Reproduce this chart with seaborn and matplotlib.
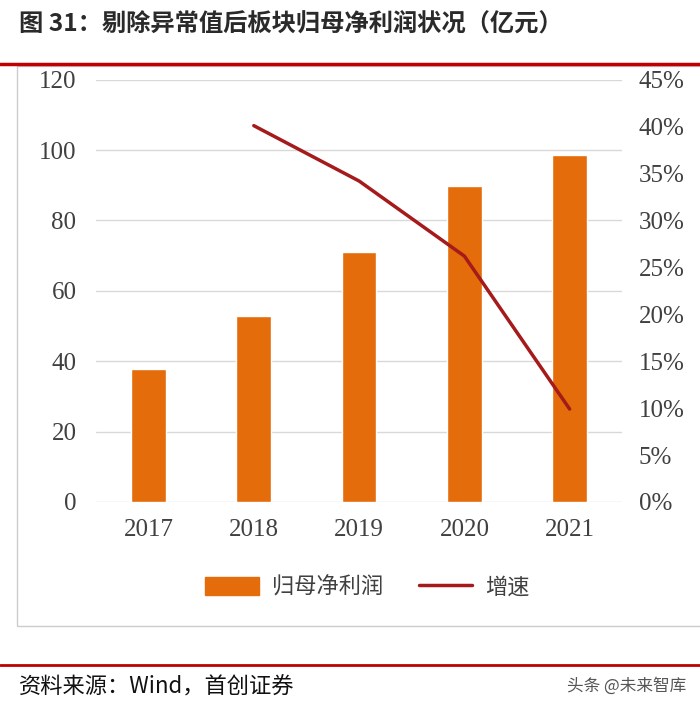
import pandas as pd
import matplotlib.pyplot as plt
import seaborn as sns
from matplotlib.patches import Rectangle, Patch
from matplotlib.lines import Line2D
from matplotlib.ticker import FuncFormatter

# data
years = ["2017", "2018", "2019", "2020", "2021"]
profit = [37.8, 52.9, 71.1, 89.9, 98.7]          # 归母净利润 (亿元)
growth_years = ["2018", "2019", "2020", "2021"]
growth = [40.1, 34.2, 26.2, 9.9]                 # 增速 (%)

left_ticks = [0, 20, 40, 60, 80, 100, 120]
right_ticks = [0, 5, 10, 15, 20, 25, 30, 35, 40, 45]

BAR = "#E46C0A"
LINE = "#A51A1A"
RED = "#C00000"

sns.set_theme(style="white")
plt.rcParams["font.family"] = ["Noto Sans CJK SC", "DejaVu Sans"]

df = pd.DataFrame({"year": years, "profit": profit})
dg = pd.DataFrame({"year": growth_years, "growth": growth})
dg["pos"] = [years.index(y) for y in growth_years]

fig = plt.figure(figsize=(7, 7.05), dpi=100)
ax = fig.add_axes([0.137, 0.288, 0.752, 0.599])

sns.barplot(data=df, x="year", y="profit", color=BAR, width=0.33,
            saturation=1, ax=ax)
ax.set_ylim(0, 120)
ax.set_xlim(-0.5, 4.5)
ax.set_yticks(left_ticks)
ax.grid(axis="y", color="#d9d9d9", linewidth=1)
ax.set_axisbelow(True)
ax.set_xlabel("")
ax.set_ylabel("")
for s in ax.spines.values():
    s.set_visible(False)

serif = ["Liberation Serif", "DejaVu Serif"]
ax.tick_params(axis="both", length=0, labelsize=18, colors="#404040", pad=14)
ax.tick_params(axis="x", pad=12)
for lab in ax.get_xticklabels() + ax.get_yticklabels():
    lab.set_family(serif)

ax2 = ax.twinx()
sns.lineplot(data=dg, x="pos", y="growth", color=LINE, linewidth=2.5, ax=ax2)
ax2.set_ylim(0, 45)
ax2.set_xlim(-0.5, 4.5)
ax2.set_yticks(right_ticks)
ax2.yaxis.set_major_formatter(FuncFormatter(lambda v, p: f"{v:.0f}%"))
ax2.set_ylabel("")
ax2.set_xlabel("")
ax2.grid(False)
for s in ax2.spines.values():
    s.set_visible(False)
ax2.tick_params(axis="y", length=0, labelsize=18, colors="#404040", pad=12)
for lab in ax2.get_yticklabels():
    lab.set_family(serif)

# legend
handles = [Patch(facecolor=BAR, edgecolor=BAR),
           Line2D([0], [0], color=LINE, linewidth=2.5)]
fig.legend(handles, ["归母净利润", "增速"], loc="center",
           bbox_to_anchor=(0.525, 1 - 587 / 705), ncol=2, frameon=False,
           fontsize=16, handlelength=2.4, handleheight=0.9, handletextpad=0.6,
           columnspacing=1.6, labelcolor="#404040")

# title and frame
fig.text(0.027, 1 - 24 / 705, "图 31：剔除异常值后板块归母净利润状况（亿元）",
         fontsize=17.5, fontweight="bold", color="#2a2a2a", va="center")
fig.add_artist(Line2D([0, 1], [1 - 64 / 705] * 2, color=RED, linewidth=2.5))
fig.add_artist(Rectangle((17 / 700, 1 - 626 / 705), 1, (626 - 66) / 705,
                         fill=False, edgecolor="#cccccc", linewidth=1))

# footer
fig.add_artist(Line2D([0, 1], [1 - 665 / 705] * 2, color=RED, linewidth=2))
fig.text(0.027, 1 - 687 / 705, "资料来源：Wind，首创证券", fontsize=16,
         style="italic", color="#111111", va="center")
fig.text(0.98, 1 - 686 / 705, "头条 @未来智库", fontsize=12, color="#555555",
         va="center", ha="right")

fig.savefig("out.png", dpi=100)
